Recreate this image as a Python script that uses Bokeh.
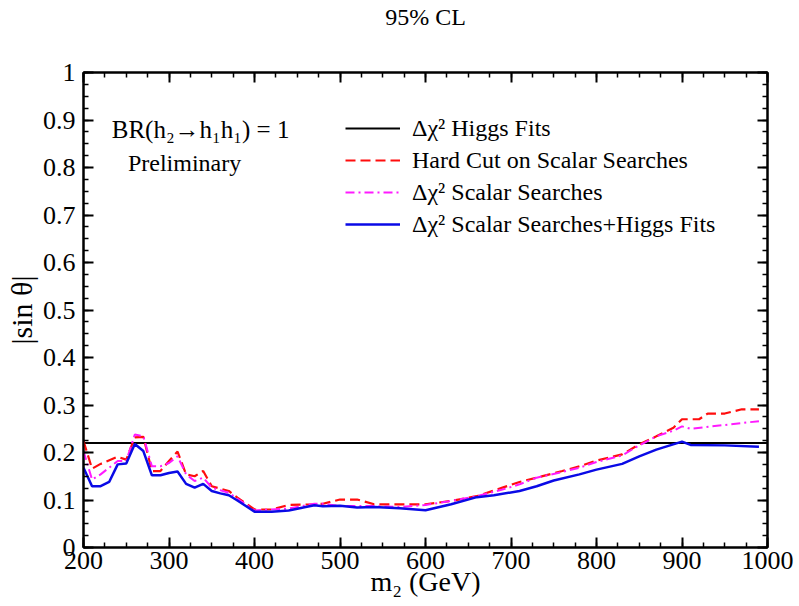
from bokeh.plotting import figure
from bokeh.models import (LinearAxis, SingleIntervalTicker, CustomJSTickFormatter,
                          Legend, LegendItem, Label, Range1d)
from bokeh.embed import file_html
from bokeh.resources import INLINE

# ---------------- data ----------------
higgs_x = [200, 1000]
higgs_y = [0.22, 0.22]

red_x = [200, 210, 220, 240, 250, 260, 270, 280, 290, 300, 310, 320, 330, 340, 350, 370, 380,
         400, 420, 440, 470, 480, 500, 520, 540, 570, 600, 630, 660, 690, 710, 730, 760, 780,
         800, 830, 850, 870, 890, 900, 920, 930, 950, 970, 990]
red_y = [0.224, 0.166, 0.176, 0.191, 0.185, 0.232, 0.233, 0.161, 0.161, 0.182, 0.202, 0.154,
         0.150, 0.161, 0.129, 0.119, 0.105, 0.080, 0.080, 0.0895, 0.091, 0.092, 0.101, 0.101,
         0.091, 0.091, 0.091, 0.098, 0.108, 0.126, 0.138, 0.147, 0.161, 0.171, 0.183, 0.196,
         0.217, 0.234, 0.252, 0.270, 0.270, 0.282, 0.282, 0.291, 0.291]

mag_x = [200, 210, 220, 240, 250, 260, 270, 280, 290, 300, 310, 320, 330, 340, 350, 370, 400,
         440, 470, 480, 500, 540, 570, 600, 630, 660, 690, 710, 730, 760, 780, 800, 830, 850,
         870, 890, 900, 910, 950, 990]
mag_y = [0.203, 0.143, 0.154, 0.182, 0.182, 0.238, 0.234, 0.171, 0.171, 0.178, 0.192, 0.154,
         0.140, 0.147, 0.126, 0.115, 0.078, 0.082, 0.092, 0.092, 0.0874, 0.0874, 0.0853, 0.0895,
         0.098, 0.108, 0.122, 0.133, 0.147, 0.159, 0.168, 0.180, 0.194, 0.215, 0.234, 0.246,
         0.255, 0.250, 0.258, 0.266]

blue_x = [200, 210, 220, 230, 240, 250, 260, 270, 280, 290, 300, 310, 320, 330, 340, 350, 360,
          370, 380, 400, 420, 440, 470, 480, 500, 520, 540, 570, 600, 630, 660, 680, 710, 730,
          750, 780, 800, 830, 850, 870, 900, 910, 950, 990]
blue_y = [0.168, 0.129, 0.129, 0.138, 0.175, 0.177, 0.218, 0.203, 0.152, 0.152, 0.157, 0.160,
          0.134, 0.126, 0.134, 0.119, 0.114, 0.110, 0.099, 0.0755, 0.0755, 0.078, 0.0888, 0.0867,
          0.088, 0.084, 0.0853, 0.0825, 0.0783, 0.091, 0.106, 0.110, 0.119, 0.129, 0.141, 0.154,
          0.164, 0.176, 0.192, 0.206, 0.223, 0.216, 0.215, 0.212]

legend_labels = ["\u0394\u03c7\u00b2 Higgs Fits",
                 "Hard Cut on Scalar Searches",
                 "\u0394\u03c7\u00b2 Scalar Searches",
                 "\u0394\u03c7\u00b2 Scalar Searches+Higgs Fits"]

title_text = "95% CL"

FONT = "Liberation Serif"

p = figure(width=799, height=606, output_backend="svg", toolbar_location=None,
           x_range=Range1d(200, 1000), y_range=Range1d(0, 1),
           min_border_left=83, min_border_right=32, min_border_top=70, min_border_bottom=59,
           title=title_text + "\n")
p.title.text_font = FONT
p.title.text_font_size = "24px"
p.title.text_font_style = "normal"
p.title.text_color = "black"
p.title.align = "center"
p.title.text_line_height = 1.6
p.title.standoff = 2

p.grid.visible = False
p.background_fill_color = "white"
p.border_fill_color = "white"
p.outline_line_color = "black"
p.outline_line_width = 2

xt = SingleIntervalTicker(interval=100, num_minor_ticks=4)
yt = SingleIntervalTicker(interval=0.1, num_minor_ticks=4)
yfmt = CustomJSTickFormatter(code="return String(Math.round(tick*10)/10);")
blankfmt = CustomJSTickFormatter(code="return '';")

def style_axis(ax):
    ax.axis_line_color = "black"
    ax.axis_line_width = 2
    ax.major_tick_line_width = 2
    ax.minor_tick_line_width = 1.5
    ax.major_tick_in = 10
    ax.major_tick_out = 0
    ax.minor_tick_in = 5
    ax.minor_tick_out = 0
    ax.major_label_text_font = FONT
    ax.major_label_text_font_size = "26px"
    ax.major_label_text_color = "black"
    ax.axis_label_text_font = FONT
    ax.axis_label_text_font_style = "normal"
    ax.axis_label_text_color = "black"

xa = p.xaxis[0]
xa.ticker = xt
style_axis(xa)
xa.major_label_standoff = 4
xa.axis_label = "m\u2082 (GeV)"
xa.axis_label_text_font_size = "28px"
xa.axis_label_standoff = -6

ya = p.yaxis[0]
ya.ticker = yt
ya.formatter = yfmt
style_axis(ya)
ya.major_label_standoff = 8
ya.axis_label = "|sin \u03b8|"
ya.axis_label_text_font_size = "30px"
ya.axis_label_standoff = 2

top = LinearAxis(ticker=SingleIntervalTicker(interval=100, num_minor_ticks=4), formatter=blankfmt)
style_axis(top)
top.major_label_standoff = 0
top.major_label_text_font_size = "1px"
p.add_layout(top, "above")

right = LinearAxis(ticker=SingleIntervalTicker(interval=0.1, num_minor_ticks=4), formatter=blankfmt)
style_axis(right)
right.major_label_standoff = 0
right.major_label_text_font_size = "1px"
p.add_layout(right, "right")

r_h = p.line(higgs_x, higgs_y, line_color="black", line_width=2)
r_r = p.line(red_x, red_y, line_color="#ff0d0d", line_width=2.2, line_dash="10 5")
r_m = p.line(mag_x, mag_y, line_color="#ff1aff", line_width=2, line_dash="9 4 2 4")
r_b = p.line(blue_x, blue_y, line_color="#0a0ae6", line_width=2.5)

legend = Legend(items=[LegendItem(label=legend_labels[0], renderers=[r_h]),
                       LegendItem(label=legend_labels[1], renderers=[r_r]),
                       LegendItem(label=legend_labels[2], renderers=[r_m]),
                       LegendItem(label=legend_labels[3], renderers=[r_b])],
                location=(262, 308), padding=0, margin=0, spacing=2,
                glyph_width=55, glyph_height=30, label_height=30, label_standoff=12,
                label_text_font=FONT, label_text_font_size="24px",
                label_text_color="black",
                background_fill_alpha=0, border_line_alpha=0)
p.add_layout(legend, "center")

p.add_layout(Label(x=233, y=0.88, text="BR(h\u2082\u2192h\u2081h\u2081) = 1",
                   text_font=FONT, text_font_size="25px", text_baseline="middle",
                   text_color="black"))
p.add_layout(Label(x=252, y=0.81, text="Preliminary",
                   text_font=FONT, text_font_size="24px", text_baseline="middle",
                   text_color="black"))

open("out.html", "w").write(file_html(p, INLINE))
